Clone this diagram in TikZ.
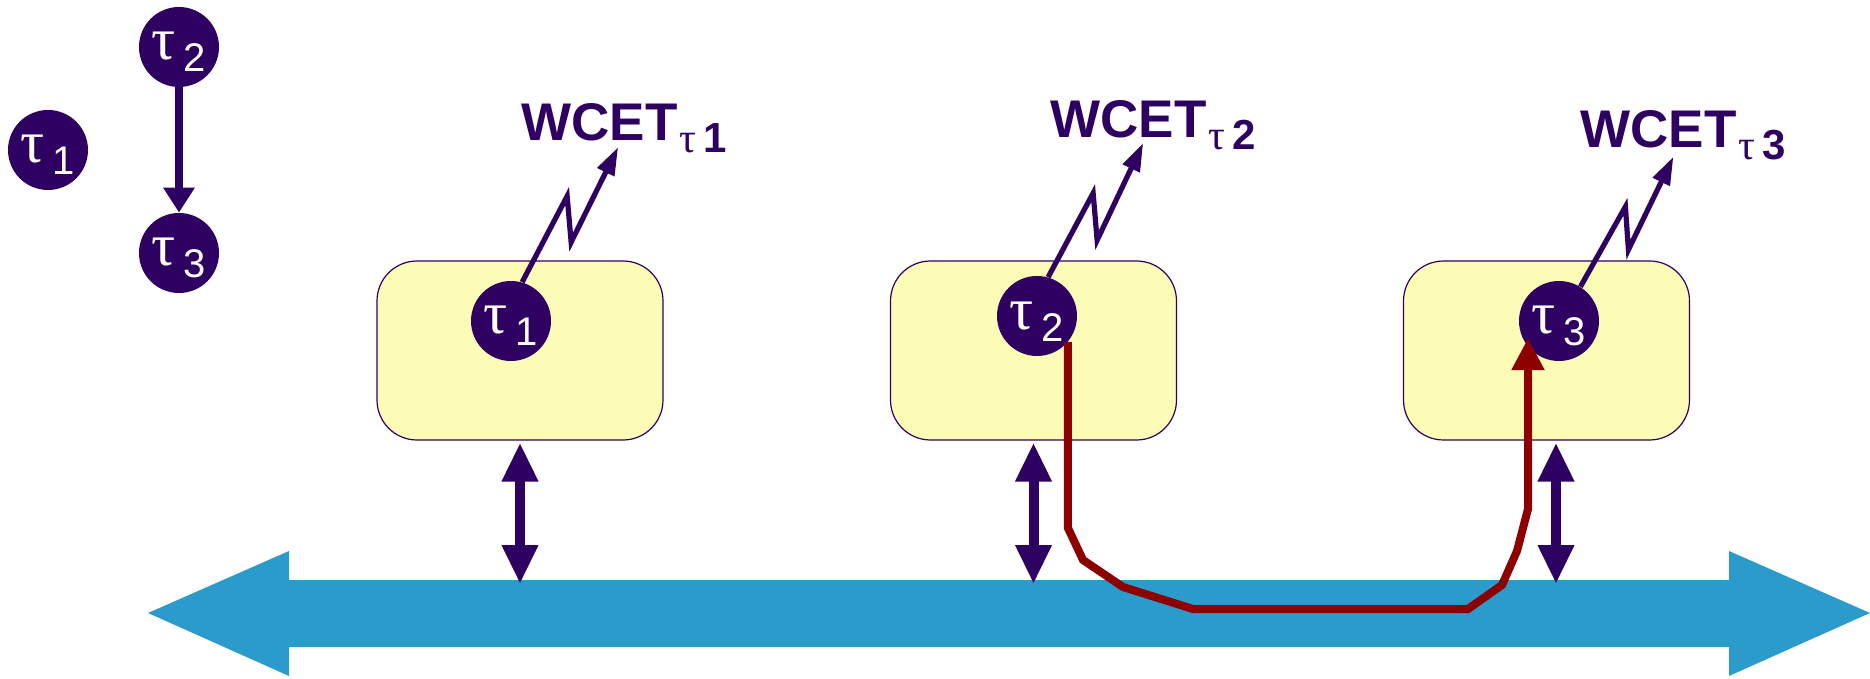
\documentclass[tikz,border=0pt]{standalone}
\usepackage{fontspec}
\setmainfont{Liberation Sans}
\newfontfamily\greekfont{Liberation Serif}
\usetikzlibrary{arrows.meta}
\definecolor{taskpurple}{RGB}{45,0,98}
\definecolor{busblue}{RGB}{42,155,203}
\definecolor{cpuyellow}{RGB}{252,252,182}
\definecolor{msgred}{RGB}{140,0,0}

% task name with its number set lower
\newcommand{\tsk}[1]{{\greekfont\fontsize{30pt}{30pt}\selectfont τ}\hspace{4pt}\raisebox{-6pt}{\fontsize{20pt}{20pt}\selectfont #1}}
\newcommand{\wcet}[1]{{\fontsize{26.5pt}{26.5pt}\selectfont\bfseries WCET}\hspace{1pt}\raisebox{-6pt}{{\greekfont\fontsize{21pt}{21pt}\selectfont τ}\hspace{3.5pt}{\fontsize{21pt}{21pt}\selectfont\bfseries #1}}}

\begin{document}
\begin{tikzpicture}[x=0.5pt,y=-0.5pt,
  task/.style={circle,fill=taskpurple,text=white,minimum size=40pt,inner sep=0pt,
    text height=13pt,text depth=0pt},
  cpu/.style={draw=taskpurple,line width=0.6pt,fill=cpuyellow,rounded corners=20pt,
    minimum width=143pt,minimum height=89.5pt},
  label/.style={text=taskpurple,inner sep=0pt,anchor=base west},
  dep/.style={draw=taskpurple,line width=3.8pt,-{Triangle[width=15pt,length=12.5pt]}},
  zig/.style={draw=taskpurple,line width=2.6pt,-{Triangle[width=9pt,length=14pt]}},
  link/.style={draw=taskpurple,line width=5pt,
    {Triangle[width=17pt,length=19.5pt]}-{Triangle[width=17pt,length=19.5pt]}},
  msg/.style={draw=msgred,line width=4pt,-{Triangle[width=15.5pt,length=16pt]}}]
\useasboundingbox (0,0) rectangle (1870,679);

% the bus
\fill[busblue] (148,613) -- (289,551) -- (289,580) -- (1729,580) -- (1729,551)
  -- (1870,613) -- (1729,676) -- (1729,647) -- (289,647) -- (289,676) -- cycle;
\coordinate (bustop) at (0,584);

% task graph
\node[task] (g1) at (48,150) {\tsk{1}};
\node[task] (g2) at (179,47) {\tsk{2}};
\node[task] (g3) at (179,253) {\tsk{3}};
\draw[dep] (g2) -- (g3);

% processors
\node[cpu] (b1) at (520,350.5) {};
\node[cpu] (b2) at (1033.5,350.5) {};
\node[cpu] (b3) at (1546.5,350.5) {};

\draw[link] ([yshift=-1pt]b1.south) -- (b1.south |- bustop);
\draw[link] ([yshift=-1pt]b2.south) -- (b2.south |- bustop);
\draw[link] ([xshift=4.75pt,yshift=-1pt]b3.south) -- ([xshift=4.75pt]b3.south |- bustop);

\node[task] (t1) at (511,321) {\tsk{1}};
\node[task] (t2) at (1037,316) {\tsk{2}};
\node[task] (t3) at (1559,321) {\tsk{3}};

\node[label] (w1) at (521,141) {\wcet{1}};
\node[label] (w2) at (1050,138) {\wcet{2}};
\node[label] (w3) at (1580,148) {\wcet{3}};

\draw[zig] (t1.74) -- ++(45,-86) -- ++(4,46) -- ++(47,-95);
\draw[zig] (t2.74) -- ++(45,-84) -- ++(4,47) -- ++(46,-97);
\draw[zig] (t3.58) -- ++(45,-80) -- ++(3,43) -- ++(45,-93);

% message tau2 -> tau3 over the bus
\draw[msg] (t2.-40) -- (t2.-40 |- 0,528) -- (1083,560) -- (1123,587) -- (1193,609)
  -- (1468,609) -- (1502,585) -- (1517,551) -- (1528,509) -- (t3.205 -| 1528,0);
\end{tikzpicture}
\end{document}
